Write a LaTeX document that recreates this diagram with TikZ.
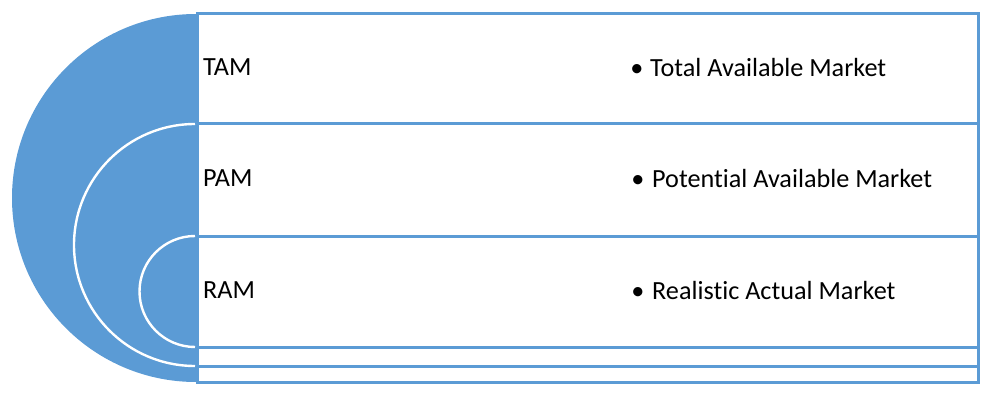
\documentclass[tikz,border=0pt]{standalone}
\usepackage{fontspec}
\setmainfont{Carlito}[Ligatures=NoCommon]
\definecolor{mblue}{HTML}{5B9BD5}
\begin{document}
\begin{tikzpicture}[x=1pt,y=1pt,
  rowbox/.style={draw=mblue,line width=3pt,fill=white},
  arcline/.style={draw=white,line width=2.4pt},
  lbl/.style={anchor=base west,inner sep=0pt,font=\fontsize{26.2}{31}\selectfont},
  bul/.style={anchor=base,inner sep=0pt,font=\fontsize{26.2}{31}\selectfont}]
\useasboundingbox (0,0) rectangle (995,402);
% semicircles
\fill[mblue] (196,388) arc[start angle=90,end angle=270,radius=184] -- cycle;
\draw[arcline] (195,278) arc[start angle=90,end angle=270,radius=121];
\draw[arcline] (195,166) arc[start angle=90,end angle=270,radius=55.5];
% rows
\draw[rowbox] (197,20) rectangle (978,36);
\draw[rowbox] (197,36) rectangle (978,55);
\draw[rowbox] (197,55) rectangle (978,166);
\draw[rowbox] (197,166) rectangle (978,278);
\draw[rowbox] (197,278) rectangle (978,388);
% labels
\node[lbl] (tamL) at (203,326) {TAM};
\node[lbl] (pamL) at (203,215) {PAM};
\node[lbl] (ramL) at (203,104) {RAM};
\node[bul] (tamB) at (637,325) {•};
\node[bul] (pamB) at (638,214) {•};
\node[bul] (ramB) at (638,103) {•};
\node[lbl] (tamT) at (650,325) {Total Available Market};
\node[lbl] (pamT) at (652,214) {Potential Available Market};
\node[lbl] (ramT) at (652,103) {Realistic Actual Market};
\end{tikzpicture}
\end{document}
